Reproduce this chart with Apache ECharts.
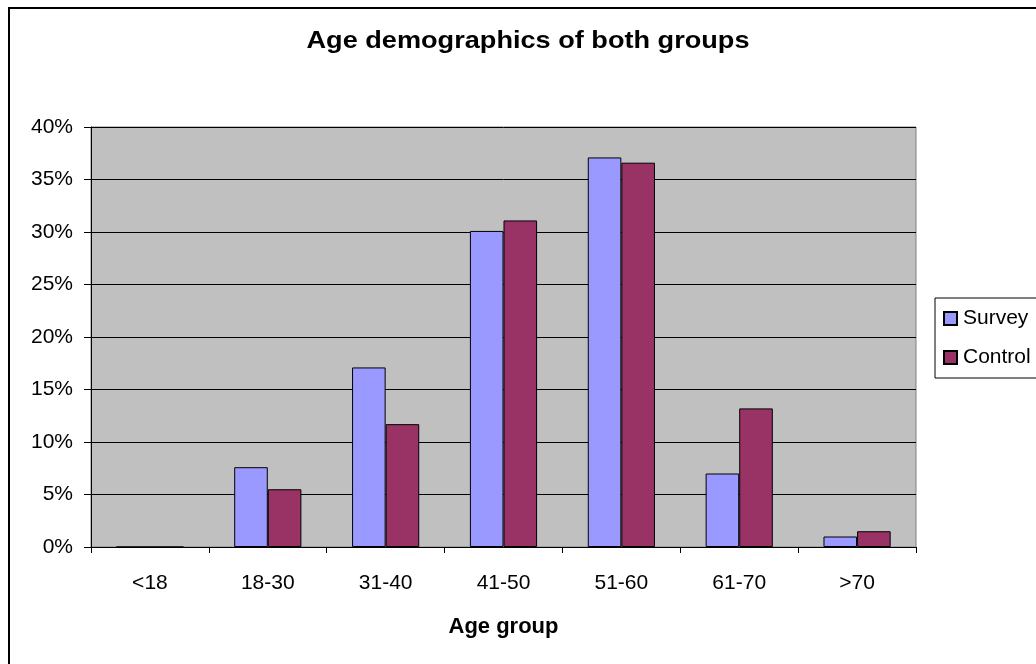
<!DOCTYPE html>
<html>
<head>
<meta charset="utf-8">
<script src="https://cdn.jsdelivr.net/npm/echarts@6/dist/echarts.min.js"></script>
<style>
  html, body { margin: 0; padding: 0; background: #fff; }
  #chart { width: 1036px; height: 664px; }
</style>
</head>
<body>
<div id="chart"></div>
<script>
// Age groups on the category axis
const categories = ['<18', '18-30', '31-40', '41-50', '51-60', '61-70', '>70'];
// Share of each group, in percent
const surveyValues = [0, 7.6, 17.1, 30.1, 37.1, 7.0, 1.0];
const controlValues = [0, 5.5, 11.7, 31.1, 36.6, 13.2, 1.5];
const seriesNames = ['Survey', 'Control'];
const titleText = 'Age demographics of both groups';
const xAxisTitle = 'Age group';

const FONT = '"Liberation Sans", Arial, sans-serif';

const chart = echarts.init(document.getElementById('chart'), null, { renderer: 'canvas' });

chart.setOption({
  animation: false,
  backgroundColor: '#ffffff',
  textStyle: { fontFamily: FONT, color: '#000' },
  graphic: [
    {
      // outer chart frame
      type: 'rect',
      shape: { x: 9, y: 8, width: 2000, height: 2000 },
      style: { fill: 'none', stroke: '#000', lineWidth: 2 },
      silent: true
    },
    {
      // slightly widened bold title
      type: 'text',
      x: 528,
      y: 41,
      scaleX: 1.13,
      style: {
        text: titleText,
        fontFamily: FONT,
        fontWeight: 'bold',
        fontSize: 24,
        fill: '#000',
        align: 'center',
        verticalAlign: 'middle'
      }
    }
  ],
  grid: {
    left: 91,
    top: 127,
    width: 825,
    height: 420,
    show: true,
    backgroundColor: '#c0c0c0',
    borderColor: '#808080',
    borderWidth: 1
  },
  legend: {
    orient: 'vertical',
    left: 935,
    top: 298,
    padding: [10, 40, 10, 8],
    itemGap: 18,
    itemWidth: 13,
    itemHeight: 13,
    icon: 'rect',
    borderColor: '#000',
    borderWidth: 1,
    backgroundColor: '#fff',
    textStyle: { fontFamily: FONT, fontSize: 21, color: '#000', padding: [0, 0, 0, 1] },
    data: seriesNames
  },
  xAxis: {
    type: 'category',
    data: categories,
    boundaryGap: true,
    axisLine: { show: true, lineStyle: { color: '#000', width: 1 } },
    axisTick: { show: true, inside: false, length: 6, lineStyle: { color: '#000' } },
    axisLabel: { fontFamily: FONT, fontSize: 21, color: '#000', margin: 26 },
    splitLine: { show: false },
    name: xAxisTitle,
    nameLocation: 'middle',
    nameGap: 69,
    nameTextStyle: { fontFamily: FONT, fontSize: 22, fontWeight: 'bold', color: '#000' }
  },
  yAxis: {
    type: 'value',
    min: 0,
    max: 40,
    interval: 5,
    axisLine: { show: true, lineStyle: { color: '#000', width: 1 } },
    axisTick: { show: true, inside: false, length: 7, lineStyle: { color: '#000' } },
    axisLabel: { fontFamily: FONT, fontSize: 21, color: '#000', margin: 18, formatter: '{value}%' },
    splitLine: { show: true, lineStyle: { color: '#000', width: 1 } }
  },
  series: [
    {
      name: seriesNames[0],
      type: 'bar',
      data: surveyValues,
      barGap: '0%',
      barCategoryGap: '43%',
      itemStyle: { color: '#9999ff', borderColor: '#000', borderWidth: 1 }
    },
    {
      name: seriesNames[1],
      type: 'bar',
      data: controlValues,
      barGap: '0%',
      barCategoryGap: '43%',
      itemStyle: { color: '#993366', borderColor: '#000', borderWidth: 1 }
    }
  ]
});
</script>
</body>
</html>
